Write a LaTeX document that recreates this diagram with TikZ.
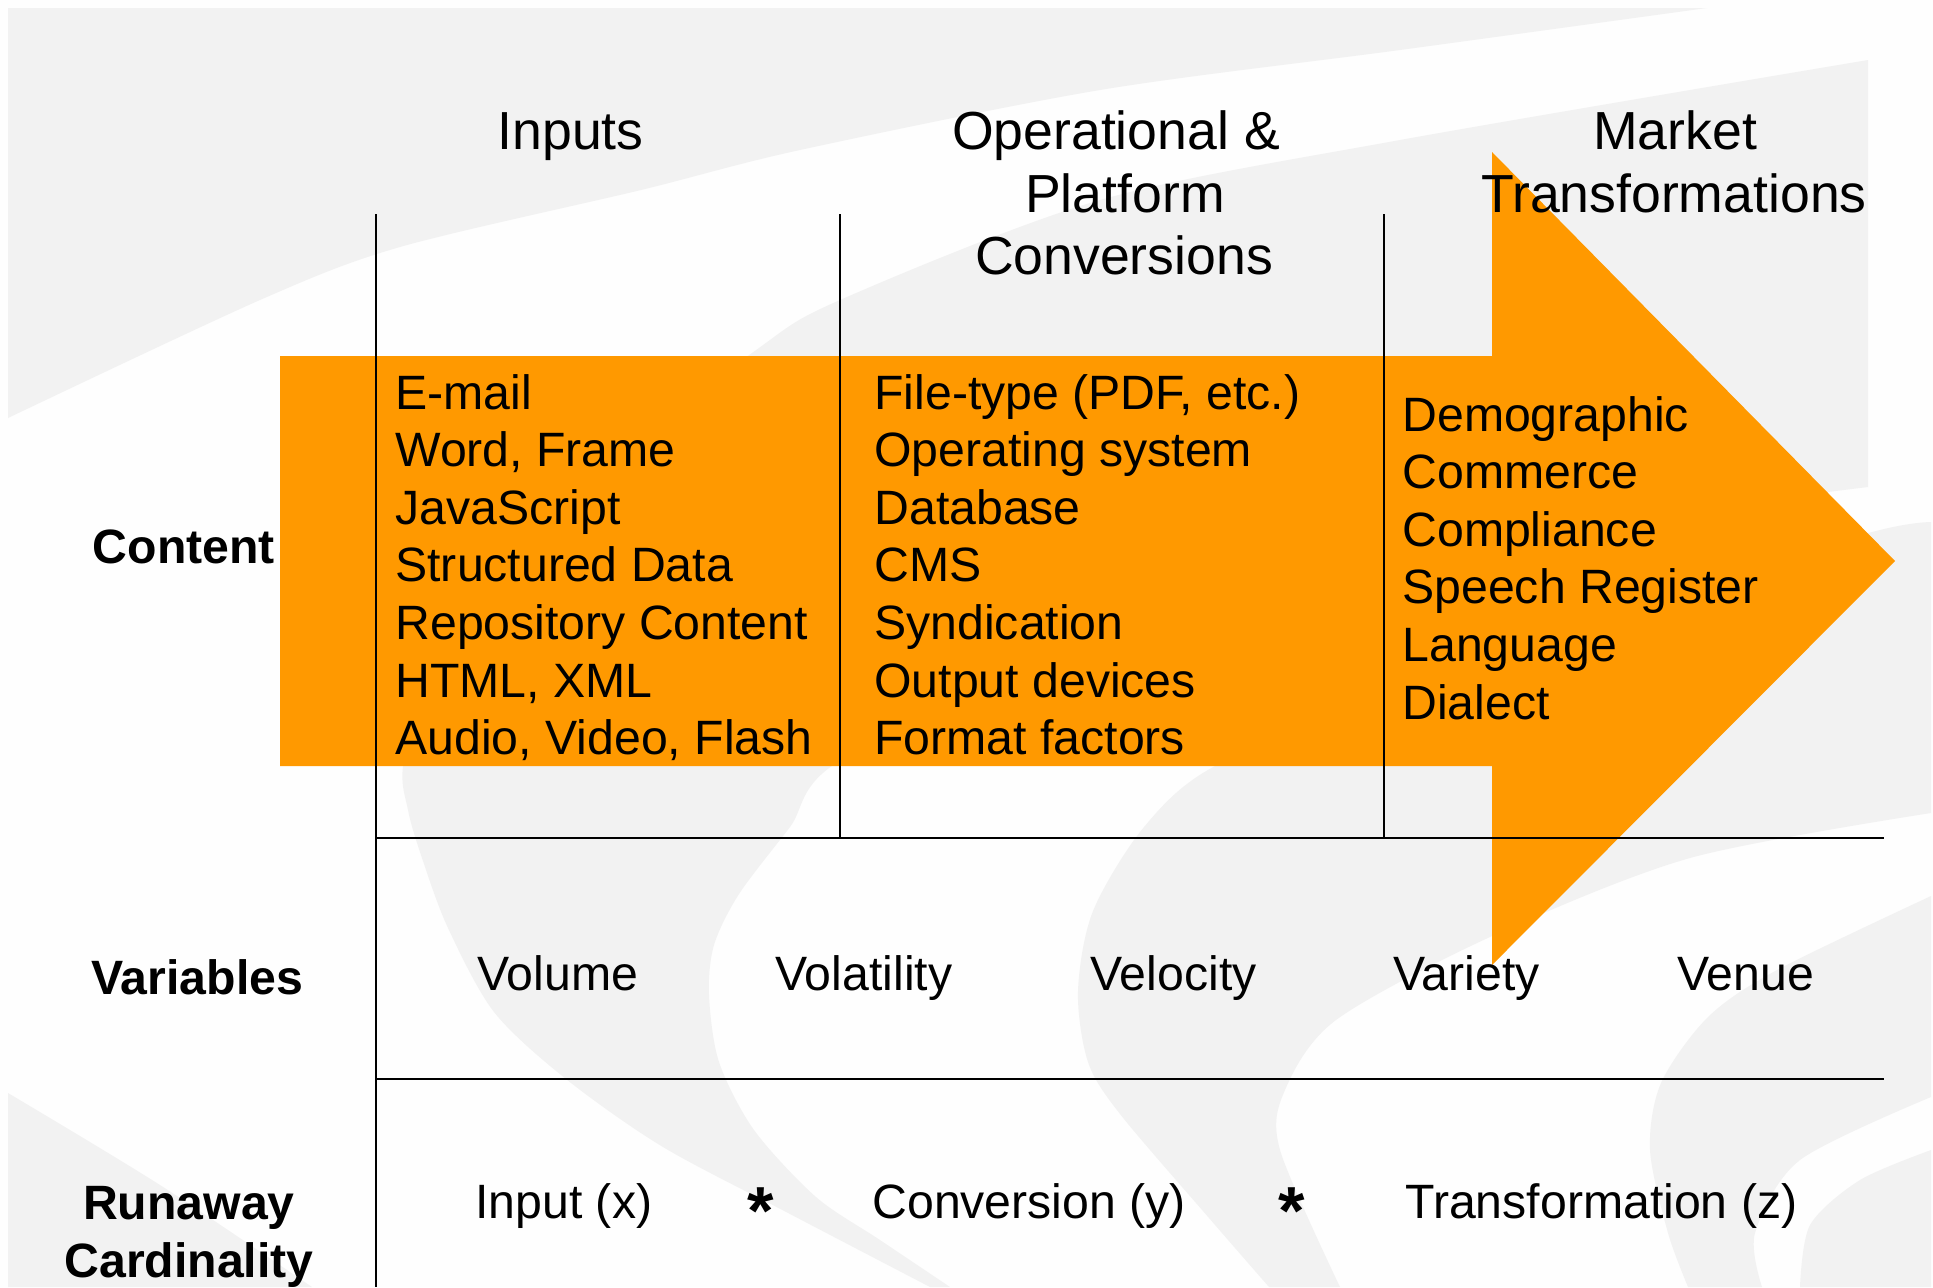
\documentclass[tikz,border=0pt]{standalone}
\usepackage{fontspec}
\setmainfont{Liberation Sans}
\definecolor{bgwhite}{RGB}{254,254,254}
\definecolor{wmgrey}{RGB}{242,242,242}
\definecolor{arrowor}{RGB}{255,153,0}
\tikzset{
  wm/.style={fill=wmgrey},
  outerrule/.style={line width=1.15pt, black},
  seprule/.style={line width=0.6pt, black},
  rowrule/.style={line width=1.2pt, black},
  body/.style={inner sep=0pt, anchor=base west, font=\fontsize{24.1pt}{28.8pt}\selectfont},
  head/.style={inner sep=0pt, anchor=base, font=\fontsize{26.8pt}{32pt}\selectfont},
  rowlab/.style={inner sep=0pt, anchor=base west, font=\fontsize{24.1pt}{28.8pt}\selectfont\bfseries},
  rowlabc/.style={inner sep=0pt, anchor=base, font=\fontsize{24.1pt}{28.8pt}\selectfont\bfseries},
  starmark/.style={inner sep=0pt, anchor=base, font=\fontsize{34pt}{34pt}\selectfont\bfseries}
}
\begin{document}
\begin{tikzpicture}[x=0.5pt,y=-0.5pt]
\useasboundingbox (0,0) rectangle (1933,1287);
\fill[bgwhite] (0,0) rectangle (1933,1287);
% watermark swooshes
\fill[wm] (8,8) -- plot[smooth] coordinates {(1707,8) (1400,50) (1100,90) (800,150) (641,190) (400,247) (260,300) (8,418)} -- cycle;
\fill[wm] plot[smooth] coordinates {(1868,60) (1400,140) (1100,200) (840,300) (752,353) (560,500) (440,640) (404,760) (408,810) (423,861) (448,928) (494,1012) (566,1079) (663,1147) (790,1214) (930,1287)}
  -- plot[smooth] coordinates {(950,1287) (880,1240) (816,1197) (754,1130) (719,1062) (709,995) (714,945) (739,894) (790,827) (841,760) (1100,640) (1500,540) (1868,487)} -- cycle;
\fill[wm] plot[smooth] coordinates {(1931,522) (1880,530) (1700,580) (1400,690) (1215,766) (1144,827) (1093,911) (1078,991) (1088,1062) (1120,1114) (1209,1218) (1269,1287)}
  -- plot[smooth] coordinates {(1340,1287) (1280,1150) (1285,1090) (1336,1020) (1490,937) (1690,858) (1931,813)} -- cycle;
\fill[wm] plot[smooth] coordinates {(1931,896) (1777,970) (1708,1017) (1661,1083) (1650,1150) (1668,1233) (1688,1287)}
  -- plot[smooth] coordinates {(1762,1287) (1755,1233) (1800,1160) (1931,1097)} -- cycle;
\fill[wm] plot[smooth] coordinates {(1800,1287) (1810,1225) (1860,1180) (1931,1150)} -- (1931,1287) -- cycle;
\fill[wm] plot[smooth] coordinates {(8,1093) (160,1185) (312,1287)} -- (8,1287) -- cycle;
% orange arrow
\fill[arrowor] (280,356) -- (1492,356) -- (1492,152) -- (1895,561) -- (1492,965) -- (1492,766) -- (280,766) -- cycle;
% rules
\coordinate (va1) at (376,214); \coordinate (va2) at (376,1287);
\coordinate (vb1) at (840,214); \coordinate (vb2) at (840,838);
\coordinate (vc1) at (1384,214); \coordinate (vc2) at (1384,838);
\coordinate (ha1) at (376,838); \coordinate (ha2) at (1884,838);
\coordinate (hb1) at (376,1079); \coordinate (hb2) at (1884,1079);
\draw[outerrule] (va1) -- (va2);
\draw[seprule] (vb1) -- (vb2);
\draw[seprule] (vc1) -- (vc2);
\draw[rowrule] (ha1) -- (ha2);
\draw[rowrule] (hb1) -- (hb2);
% headers
\node[head] (hin) at (570.5,149) {Inputs};
\node[head] (hop1) at (1116,149) {Operational \&};
\node[head] (hop2) at (1125,212) {Platform};
\node[head] (hop3) at (1124,274) {Conversions};
\node[head] (hmk1) at (1675,149) {Market};
\node[head] (hmk2) at (1674,212) {Transformations};
% content lists
\foreach \t [count=\i from 0] in {E-mail, {Word, Frame}, JavaScript, Structured Data, Repository Content, {HTML, XML}, {Audio, Video, Flash}}
  \node[body] (inp\i) at (395,{409+57.6*\i}) {\t};
\foreach \t [count=\i from 0] in {{File-type (PDF, etc.)}, Operating system, Database, CMS, Syndication, Output devices, Format factors}
  \node[body] (opc\i) at (874,{409+57.6*\i}) {\t};
\foreach \t [count=\i from 0] in {Demographic, Commerce, Compliance, Speech Register, Language, Dialect}
  \node[body] (mkt\i) at (1402,{431+57.6*\i}) {\t};
% row labels
\node[rowlab] (lcontent) at (92.5,563) {Content};
\node[rowlab] (lvars) at (91,994) {Variables};
\node[rowlabc] (lrun1) at (189,1219) {Runaway};
\node[rowlabc] (lrun2) at (189,1277) {Cardinality};
% variables row
\node[body] (vvol) at (477,990) {Volume};
\node[body] (vvola) at (775,990) {Volatility};
\node[body] (vvel) at (1090,990) {Velocity};
\node[body] (vvar) at (1393,990) {Variety};
\node[body] (vven) at (1677,990) {Venue};
% cardinality row
\node[body] (cin) at (475,1218) {Input (x)};
\node[starmark] (st1) at (761,1234) {*};
\node[body] (ccv) at (872,1218) {Conversion (y)};
\node[starmark] (st2) at (1292,1234) {*};
\node[body] (ctr) at (1405,1218) {Transformation (z)};
\end{tikzpicture}
\end{document}
